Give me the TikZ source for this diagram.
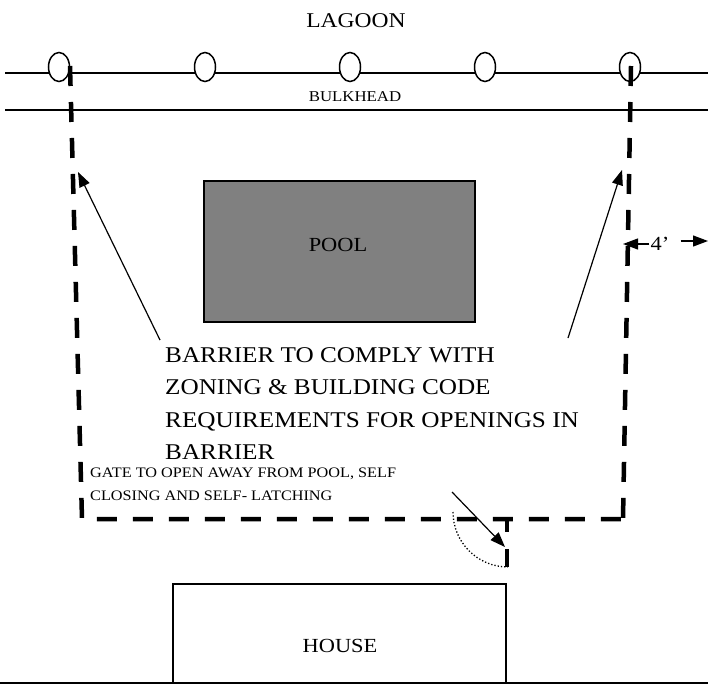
\documentclass[tikz,border=0pt]{standalone}
\usepackage{fontspec}
\setmainfont{Liberation Serif}[FakeStretch=1.12]
\usepackage{tikz}
\usetikzlibrary{arrows.meta}
\tikzstyle{fence}=[line width=4.5pt,dash pattern=on 20pt off 16pt]
\tikzstyle{fence}+=[line cap=butt]
\tikzstyle{pointer}=[line width=1.2pt,-{Triangle[length=15pt,width=11pt]}]
\tikzstyle{edge}=[line width=1.5pt]

\begin{document}
\begin{tikzpicture}[x=1pt,y=-1pt]
		\useasboundingbox (0,0) rectangle (708,685);

		\coordinate (wl) at (5,73);
		\coordinate (wr) at (708,73);
		\coordinate (bl) at (5,110);
		\coordinate (br) at (708,110);
		\coordinate (fnw) at (70,66);
		\coordinate (fsw) at (82,519);
		\coordinate (fse) at (623,519);
		\coordinate (fne) at (631,66);
		\coordinate (gate) at (507,519);
		\coordinate (gend) at (507,532);
		\coordinate (gpost) at (507,549);
		\coordinate (gfoot) at (507,567);
		\coordinate (gswing) at (453,512);

		\draw[edge]
			(wl) -- (wr)
			(bl) -- (br)
			(0,683) -- (708,683)
		;

		\node[font=\fontsize{21}{24}\selectfont] (lagoon) at (356,21) {LAGOON};
		\node[font=\fontsize{15}{18}\selectfont] (bulkhead) at (355,97) {BULKHEAD};

		\foreach \px [count=\i] in {59,205,350,485,630}
			\draw[edge,fill=white] (\px,67) ellipse (10.5pt and 14.5pt) coordinate (post\i);

		\draw[fence] (fnw) -- (fsw) -- (fse);
		\draw[fence] (fne) -- (fse);
		\draw[line width=4.5pt] (gate) -- (gend) (gpost) -- (gfoot);
		\draw[dotted,line width=1.3pt] (gswing) arc (180:90:55);

		\node[draw,edge,fill=gray,minimum width=271pt,minimum height=141pt] (pool) at (339.5,251.5) {};
		\node[font=\fontsize{20}{24}\selectfont] (pooltext) at (338,245) {POOL};

		\draw[edge] (173,683) -- (173,584) -- (506,584) -- (506,683);
		\node[font=\fontsize{20}{24}\selectfont] (house) at (340,646) {HOUSE};

		\node[anchor=north west,inner sep=0pt,align=left,
			font=\fontsize{22.5}{32.5}\selectfont] (barrier) at (165,347)
			{BARRIER TO COMPLY WITH\\ZONING \& BUILDING CODE\\REQUIREMENTS FOR OPENINGS IN\\BARRIER};
		\node[anchor=north west,inner sep=0pt,align=left,
			font=\fontsize{14.5}{23}\selectfont] (gatetext) at (90,468)
			{GATE TO OPEN AWAY FROM POOL, SELF\\CLOSING AND SELF- LATCHING};

		\coordinate (pl) at (160,340);
		\coordinate (pr) at (568,338);
		\coordinate (tl) at (78,172);
		\coordinate (tr) at (622,170);
		\coordinate (pg) at (452,492);
		\coordinate (tg) at (505,547);
		\draw[pointer] (pl) -- (tl);
		\draw[pointer] (pr) -- (tr);
		\draw[pointer] (pg) -- (tg);

		\node[font=\fontsize{20}{24}\selectfont,inner sep=1pt] (four) at (660,244) {4’};
		\coordinate (dl) at (623,241);
		\coordinate (dr) at (708,241);
		\draw[pointer] (four.west) -- (four.west -| dl);
		\draw[pointer] ([xshift=10pt]four.east |- dl) -- (dr);
\end{tikzpicture}
\end{document}
